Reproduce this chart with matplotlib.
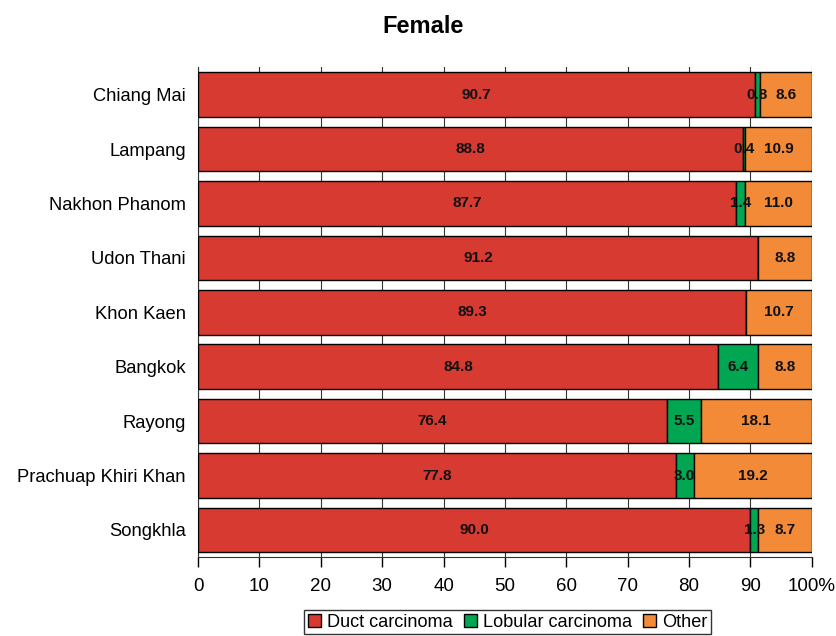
import matplotlib.pyplot as plt
import numpy as np

plt.rcParams['font.family'] = ['Liberation Sans', 'DejaVu Sans']

regions = ['Chiang Mai', 'Lampang', 'Nakhon Phanom', 'Udon Thani', 'Khon Kaen',
           'Bangkok', 'Rayong', 'Prachuap Khiri Khan', 'Songkhla']
duct = [90.7, 88.8, 87.7, 91.2, 89.3, 84.8, 76.4, 77.8, 90.0]
lobular = [0.8, 0.4, 1.4, 0.0, 0.0, 6.4, 5.5, 3.0, 1.3]
other = [8.6, 10.9, 11.0, 8.8, 10.7, 8.8, 18.1, 19.2, 8.7]

series = [('Duct carcinoma', duct, '#D63A31'),
          ('Lobular carcinoma', lobular, '#00A651'),
          ('Other', other, '#F28A38')]

fig = plt.figure(figsize=(8.36, 6.36), dpi=100)
ax = fig.add_axes([0.237, 0.124, 0.734, 0.770])

y = np.arange(len(regions))
left = np.zeros(len(regions))
for name, vals, color in series:
    vals = np.array(vals)
    ax.barh(y, vals, left=left, height=0.82, color=color, edgecolor='black',
            linewidth=1, label=name, zorder=3)
    for yi, l, v in zip(y, left, vals):
        if v > 0:
            ax.text(l + v / 2, yi, f'{v:.1f}', ha='center', va='center',
                    fontsize=11, fontweight='bold', color='#111111', zorder=4)
    left += vals

ax.set_yticks(y)
ax.set_yticklabels(regions, fontsize=13.2)
ax.set_ylim(len(regions) - 0.5, -0.5)
ax.set_xlim(0, 100)
ax.set_xticks(np.arange(0, 101, 10))
ax.set_xticklabels([str(v) for v in range(0, 100, 10)] + ['100%'], fontsize=13.5)
ax.tick_params(axis='y', length=0, pad=9)
ax.tick_params(axis='x', direction='out', length=7, width=1, pad=8)
ax.grid(axis='x', color='#333333', linewidth=0.8, zorder=0)
for s in ['top', 'right']:
    ax.spines[s].set_visible(False)
ax.spines['left'].set_color('#333333')
ax.spines['bottom'].set_color('#333333')

fig.suptitle('Female', x=0.506, y=0.977, fontsize=17, fontweight='bold')

leg = fig.legend(loc='lower center', bbox_to_anchor=(0.607, -0.003), ncol=3,
                 fontsize=13.1, frameon=True, fancybox=False, edgecolor='black',
                 handlelength=0.75, handleheight=0.75, handletextpad=0.3,
                 columnspacing=0.6, borderpad=0.2, borderaxespad=0.2)
leg.get_frame().set_linewidth(1)

fig.savefig('out.png', dpi=100)
